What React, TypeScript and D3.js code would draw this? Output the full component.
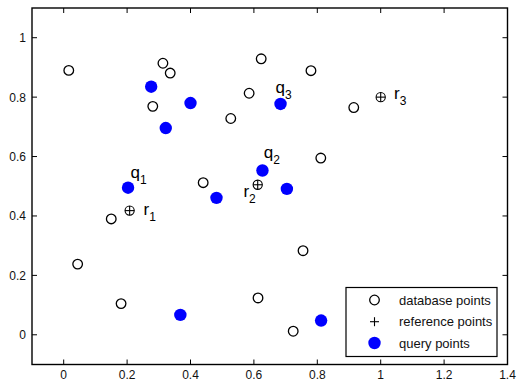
import React from "react";
import * as d3 from "d3";

// Database points (open circles)
const dbX = [0.016, 0.313, 0.336, 0.281, 0.623, 0.585, 0.527, 0.780, 0.915, 0.811, 0.440, 0.150, 0.044, 0.181, 0.613, 0.755, 0.724];
const dbY = [0.890, 0.914, 0.881, 0.769, 0.929, 0.813, 0.728, 0.889, 0.765, 0.595, 0.512, 0.390, 0.238, 0.105, 0.124, 0.283, 0.012];

// Query points (filled blue)
const qX = [0.276, 0.400, 0.322, 0.203, 0.482, 0.684, 0.627, 0.704, 0.368, 0.812];
const qY = [0.835, 0.780, 0.696, 0.495, 0.461, 0.777, 0.553, 0.491, 0.067, 0.048];

// Reference points
const rX = [0.208, 0.612, 1.0];
const rY = [0.418, 0.505, 0.800];

// Annotations: base letter, subscript, anchor in data units
const labelBase = ["q", "r", "q", "r", "q", "r"];
const labelSub = ["1", "1", "2", "2", "3", "3"];
const labelX = [0.211, 0.252, 0.631, 0.567, 0.668, 1.042];
const labelY = [0.527, 0.404, 0.596, 0.465, 0.815, 0.794];

const xTicks = [0, 0.2, 0.4, 0.6, 0.8, 1, 1.2, 1.4];
const yTicks = [0, 0.2, 0.4, 0.6, 0.8, 1];

const legendLabels = ["database points", "reference points", "query points"];

const W = 517;
const H = 382;
const L = 32, R = 507.5, T = 8, B = 364.5;

export default function App() {
  const x = d3.scaleLinear().domain([-0.1, 1.4]).range([L, R]);
  const y = d3.scaleLinear().domain([-0.1, 1.1]).range([B, T]);
  const font = "'Liberation Sans', Arial, Helvetica, sans-serif";
  const tl = 5;
  const blue = "#0000ff";

  return (
    <svg
      width={W}
      height={H}
      style={{ position: "absolute", left: 0, top: 0, display: "block", background: "#fff" }}
      fontFamily={font}
    >
      <rect x={0} y={0} width={W} height={H} fill="#fff" />
      {/* ticks on all four sides, pointing inward */}
      <g stroke="#000" strokeWidth={1}>
        {xTicks.map((t) => (
          <g key={"xt" + t}>
            <line x1={x(t)} x2={x(t)} y1={B} y2={B - tl} />
            <line x1={x(t)} x2={x(t)} y1={T} y2={T + tl} />
          </g>
        ))}
        {yTicks.map((t) => (
          <g key={"yt" + t}>
            <line x1={L} x2={L + tl} y1={y(t)} y2={y(t)} />
            <line x1={R} x2={R - tl} y1={y(t)} y2={y(t)} />
          </g>
        ))}
      </g>
      <rect x={L} y={T} width={R - L} height={B - T} fill="none" stroke="#000" strokeWidth={1.4} />
      {/* tick labels */}
      <g fontSize={12} fill="#111">
        {xTicks.map((t) => (
          <text key={"xl" + t} x={x(t)} y={379} textAnchor="middle">
            {d3.format("~g")(t)}
          </text>
        ))}
        {yTicks.map((t) => (
          <text key={"yl" + t} x={26} y={y(t) + 4.5} textAnchor="end">
            {d3.format("~g")(t)}
          </text>
        ))}
      </g>
      {/* database points */}
      <g fill="none" stroke="#000" strokeWidth={1.3}>
        {dbX.map((v, i) => (
          <circle key={"db" + i} cx={x(v)} cy={y(dbY[i])} r={4.8} />
        ))}
      </g>
      {/* reference points: circle with cross */}
      <g fill="none" stroke="#000" strokeWidth={1.1}>
        {rX.map((v, i) => {
          const cx = x(v), cy = y(rY[i]);
          return (
            <g key={"r" + i}>
              <circle cx={cx} cy={cy} r={4.6} />
              <line x1={cx - 4.6} x2={cx + 4.6} y1={cy} y2={cy} />
              <line x1={cx} x2={cx} y1={cy - 4.6} y2={cy + 4.6} />
            </g>
          );
        })}
      </g>
      {/* query points */}
      <g fill={blue}>
        {qX.map((v, i) => (
          <circle key={"q" + i} cx={x(v)} cy={y(qY[i])} r={6.2} />
        ))}
      </g>
      {/* labels */}
      <g fill="#000">
        {labelBase.map((b, i) => (
          <text key={"lb" + i} x={x(labelX[i])} y={y(labelY[i])} fontSize={17}>
            {b}
            <tspan fontSize={12} dy={6}>{labelSub[i]}</tspan>
          </text>
        ))}
      </g>
      {/* legend */}
      <g>
        <rect x={346} y={287.5} width={151} height={69} fill="#fff" stroke="#000" strokeWidth={1.2} />
        <circle cx={374.5} cy={300} r={4.8} fill="none" stroke="#000" strokeWidth={1.3} />
        <line x1={370} x2={379} y1={321.7} y2={321.7} stroke="#000" strokeWidth={1.1} />
        <line x1={374.5} x2={374.5} y1={317.2} y2={326.2} stroke="#000" strokeWidth={1.1} />
        <circle cx={374.5} cy={343} r={6.2} fill={blue} />
        {legendLabels.map((s, i) => (
          <text key={"lg" + i} x={399} y={304.5 + i * 21.5} fontSize={13} fill="#111">
            {s}
          </text>
        ))}
      </g>
    </svg>
  );
}
